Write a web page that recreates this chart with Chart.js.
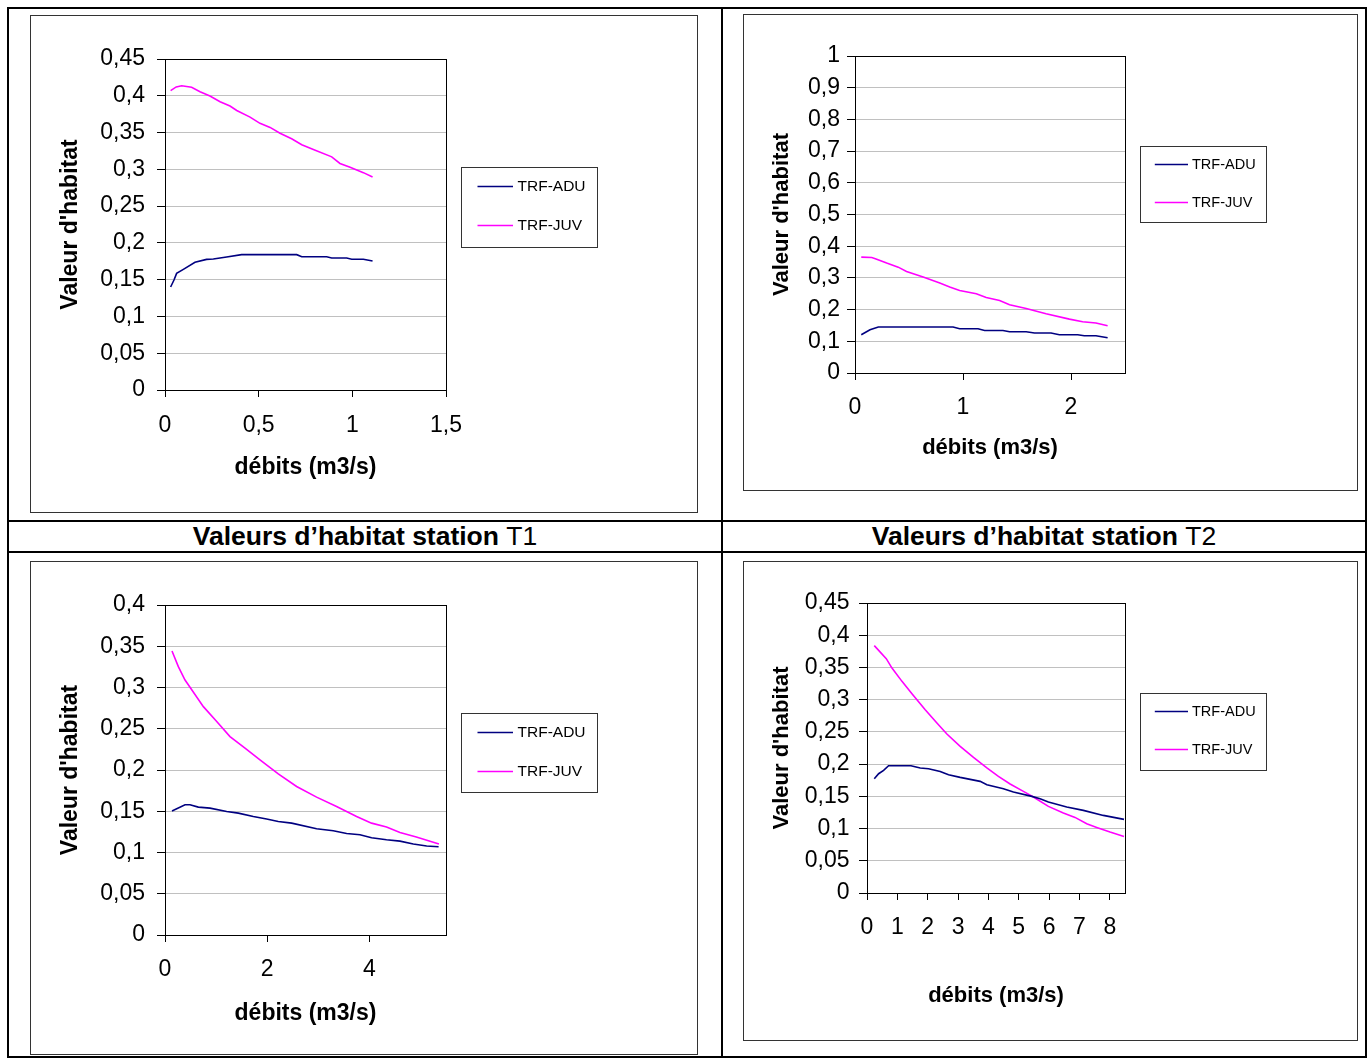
<!DOCTYPE html>
<html><head><meta charset="utf-8">
<script src="https://cdn.jsdelivr.net/npm/chart.js@4.4.1/dist/chart.umd.min.js"></script>
<style>
body{margin:0;background:#fff;width:1368px;height:1059px;position:relative;overflow:hidden;font-family:"Liberation Sans",Arial,sans-serif;}
.ln{position:absolute;background:#000;}
.frame{position:absolute;box-sizing:border-box;border:1px solid #333;pointer-events:none;}
canvas{position:absolute;}
.cap{position:absolute;display:flex;align-items:center;justify-content:center;font-weight:bold;font-size:26.5px;color:#000;white-space:nowrap;}
.cap span{font-weight:normal;}
</style></head><body>
<div class="ln" style="left:7px;top:7px;width:1360px;height:2px"></div>
<div class="ln" style="left:7px;top:1056px;width:1360px;height:2px"></div>
<div class="ln" style="left:7px;top:7px;width:2px;height:1051px"></div>
<div class="ln" style="left:1365px;top:7px;width:2px;height:1051px"></div>
<div class="ln" style="left:721px;top:7px;width:2px;height:1051px"></div>
<div class="ln" style="left:7px;top:520px;width:1360px;height:2px"></div>
<div class="ln" style="left:7px;top:551px;width:1360px;height:2px"></div>
<div class="cap" style="left:9px;top:522px;width:712px;height:29px">Valeurs d’habitat station&nbsp;<span>T1</span></div>
<div class="cap" style="left:723px;top:522px;width:642px;height:29px">Valeurs d’habitat station&nbsp;<span>T2</span></div>

<canvas id="c1" width="668" height="498" style="left:30px;top:15px"></canvas>
<div class="frame" style="left:30px;top:15px;width:668px;height:498px"></div>
<canvas id="c2" width="615" height="477" style="left:743px;top:14px"></canvas>
<div class="frame" style="left:743px;top:14px;width:615px;height:477px"></div>
<canvas id="c3" width="668" height="494" style="left:30px;top:561px"></canvas>
<div class="frame" style="left:30px;top:561px;width:668px;height:494px"></div>
<canvas id="c4" width="615" height="480" style="left:743px;top:561px"></canvas>
<div class="frame" style="left:743px;top:561px;width:615px;height:480px"></div>

<script>
// ---- Data ----
const seriesLabels = ['TRF-ADU', 'TRF-JUV'];
const xTitle = 'débits (m3/s)';
const yTitle = "Valeur d'habitat";

// Chart 1 (top-left, station T1)
const c1AduX = [0.03,0.048,0.062,0.098,0.16,0.222,0.258,0.329,0.409,0.50,0.60,0.703,0.73,0.863,0.89,0.97,0.997,1.059,1.108];
const c1AduY = [0.140,0.1495,0.1586,0.164,0.1736,0.1776,0.178,0.1808,0.184,0.184,0.184,0.184,0.1812,0.1812,0.1794,0.1794,0.1777,0.1777,0.1754];
const c1JuvX = [0.03,0.06,0.089,0.142,0.187,0.24,0.294,0.347,0.383,0.454,0.507,0.561,0.614,0.676,0.73,0.792,0.89,0.934,0.988,1.059,1.108];
const c1JuvY = [0.407,0.412,0.4137,0.4115,0.4056,0.3997,0.392,0.386,0.380,0.371,0.3625,0.357,0.349,0.3416,0.3335,0.327,0.317,0.308,0.3027,0.2955,0.2896];
const c1XRange = [0, 1.5];
const c1YRange = [0, 0.45];
const c1XTicks = [0, 0.5, 1, 1.5];
const c1YTicks = [0,0.05,0.1,0.15,0.2,0.25,0.3,0.35,0.4,0.45];

// Chart 2 (top-right, station T2)
const c2AduX = [0.058,0.139,0.216,0.908,0.969,1.139,1.2,1.37,1.431,1.585,1.662,1.815,1.892,2.062,2.123,2.231,2.339];
const c2AduY = [0.1207,0.1365,0.145,0.145,0.1396,0.1396,0.1343,0.1343,0.130,0.130,0.126,0.126,0.1207,0.1207,0.1175,0.1175,0.111];
const c2JuvX = [0.058,0.155,0.201,0.293,0.40,0.477,0.631,0.785,0.877,0.969,1.123,1.215,1.339,1.431,1.585,1.769,1.985,2.108,2.231,2.339];
const c2JuvY = [0.3656,0.3643,0.359,0.3467,0.334,0.320,0.3025,0.2836,0.271,0.260,0.250,0.2383,0.2288,0.2153,0.2036,0.1869,0.170,0.1617,0.1576,0.149];
const c2XRange = [0, 2.5];
const c2YRange = [0, 1];
const c2XTicks = [0, 1, 2];
const c2YTicks = [0,0.1,0.2,0.3,0.4,0.5,0.6,0.7,0.8,0.9,1];

// Chart 3 (bottom-left)
const c3AduX = [0.137,0.392,0.489,0.652,0.881,1.207,1.435,1.728,1.989,2.217,2.479,2.967,3.293,3.555,3.816,4.043,4.336,4.599,4.86,5.121,5.355];
const c3AduY = [0.1502,0.1578,0.1578,0.155,0.1538,0.1497,0.1477,0.1436,0.1405,0.1376,0.1356,0.1287,0.1263,0.123,0.1215,0.1178,0.1154,0.1138,0.1102,0.1078,0.1069];
const c3JuvX = [0.137,0.261,0.392,0.503,0.751,1.012,1.272,1.566,1.859,2.217,2.576,2.967,3.358,3.75,4.043,4.336,4.599,4.919,5.362];
const c3JuvY = [0.3443,0.3253,0.309,0.299,0.2768,0.2587,0.2405,0.2264,0.2123,0.1953,0.180,0.1671,0.1557,0.1436,0.1356,0.1308,0.1243,0.1187,0.1102];
const c3XRange = [0, 5.5];
const c3YRange = [0, 0.4];
const c3XTicks = [0, 2, 4];
const c3YTicks = [0,0.05,0.1,0.15,0.2,0.25,0.3,0.35,0.4];

// Chart 4 (bottom-right)
const c4AduX = [0.24,0.383,0.547,0.711,1.448,1.754,2.027,2.412,2.686,3.07,3.728,3.949,4.495,4.824,5.43,5.702,5.976,6.58,7.128,7.786,8.467];
const c4AduY = [0.1774,0.1851,0.1903,0.1975,0.1975,0.194,0.1929,0.1887,0.1836,0.1794,0.1732,0.168,0.1619,0.1567,0.1499,0.1463,0.1412,0.1335,0.1282,0.1204,0.1142];
const c4JuvX = [0.24,0.635,0.823,1.152,1.481,1.918,2.303,2.632,3.07,3.508,3.949,4.33,4.715,5.153,5.482,5.976,6.469,6.854,7.239,7.568,8.006,8.467];
const c4JuvY = [0.3838,0.3636,0.349,0.3284,0.3093,0.2845,0.2638,0.2467,0.2275,0.2104,0.194,0.181,0.1691,0.1577,0.149,0.1344,0.1241,0.1173,0.1075,0.1018,0.0946,0.0878];
const c4XRange = [0, 8.5];
const c4YRange = [0, 0.45];
const c4XTicks = [0,1,2,3,4,5,6,7,8];
const c4YTicks = [0,0.05,0.1,0.15,0.2,0.25,0.3,0.35,0.4,0.45];

// ---- Rendering ----
const FAMILY = '"Liberation Sans", Arial, sans-serif';
Chart.defaults.font.family = FAMILY;
Chart.defaults.color = '#000';

const zip = (xs, ys) => xs.map((x, i) => ({x: x, y: ys[i]}));
const fmt = v => String(Math.round(v * 1000) / 1000).replace('.', ',');

const boxLegend = {
  id: 'boxLegend',
  afterDraw(chart, args, o) {
    const ctx = chart.ctx;
    ctx.save();
    ctx.strokeStyle = '#333'; ctx.lineWidth = 1;
    ctx.strokeRect(Math.round(o.x) + 0.5, Math.round(o.y) + 0.5, Math.round(o.w), Math.round(o.h));
    ctx.font = o.font; ctx.textBaseline = 'middle'; ctx.textAlign = 'left'; ctx.fillStyle = '#000';
    chart.data.datasets.forEach((ds, i) => {
      const y = Math.round(o.rows[i]) + 0.5;
      ctx.strokeStyle = ds.borderColor; ctx.lineWidth = 1.5;
      ctx.beginPath(); ctx.moveTo(o.lx1, y); ctx.lineTo(o.lx2, y); ctx.stroke();
      ctx.fillText(ds.label, o.tx, o.rows[i] + 1);
    });
    ctx.restore();
  }
};
const plotFrame = {
  id: 'plotFrame',
  afterDraw(chart) {
    const a = chart.chartArea, ctx = chart.ctx;
    ctx.save(); ctx.strokeStyle = '#000'; ctx.lineWidth = 1;
    const l = Math.round(a.left), t = Math.round(a.top), r = Math.round(a.right), b = Math.round(a.bottom);
    ctx.strokeRect(l + 0.5, t + 0.5, r - l, b - t);
    ctx.restore();
  }
};

function makeChart(id, d) {
  return new Chart(document.getElementById(id), {
    type: 'line',
    data: {
      datasets: [
        {label: seriesLabels[0], data: zip(d.aduX, d.aduY), borderColor: '#000080', borderWidth: 1.6, pointRadius: 0, tension: 0, fill: false},
        {label: seriesLabels[1], data: zip(d.juvX, d.juvY), borderColor: '#ff00ff', borderWidth: 1.6, pointRadius: 0, tension: 0, fill: false}
      ]
    },
    options: {
      responsive: false, animation: false, devicePixelRatio: 1,
      events: [],
      layout: {padding: {left: 0, top: d.top, right: d.right, bottom: 0}, autoPadding: false},
      plugins: {legend: {display: false}, tooltip: {enabled: false}, boxLegend: d.legend},
      scales: {
        x: {
          type: 'linear', min: d.xRange[0], max: d.xRange[1],
          afterBuildTicks: s => { s.ticks = d.xTicks.map(v => ({value: v})); },
          afterFit: s => { s.height = d.xH; },
          ticks: {font: {size: 23}, color: '#000', padding: d.xPad, callback: fmt, maxRotation: 0, autoSkip: false},
          grid: {drawOnChartArea: false, drawTicks: true, tickLength: 7, tickColor: '#000', tickWidth: 1},
          border: {display: false},
          title: {display: true, text: xTitle, font: {size: d.tSize, weight: 'bold'}, color: '#000', padding: {top: 0, bottom: d.xTitlePad}}
        },
        y: {
          type: 'linear', min: d.yRange[0], max: d.yRange[1],
          afterBuildTicks: s => { s.ticks = d.yTicks.map(v => ({value: v})); },
          afterFit: s => { s.width = d.yW; },
          ticks: {font: {size: 23}, color: '#000', padding: d.yPad, callback: fmt, autoSkip: false},
          grid: {color: '#c0c0c0', lineWidth: 1, drawTicks: true, tickLength: 8, tickColor: '#000', tickWidth: 1},
          border: {display: false},
          title: {display: true, text: yTitle, font: {size: d.tSize, weight: 'bold'}, color: '#000', padding: {top: d.yTitlePad, bottom: 0}}
        }
      }
    },
    plugins: [boxLegend, plotFrame]
  });
}

makeChart('c1', {
  aduX: c1AduX, aduY: c1AduY, juvX: c1JuvX, juvY: c1JuvY,
  xRange: c1XRange, yRange: c1YRange, xTicks: c1XTicks, yTicks: c1YTicks,
  top: 44, right: 252, yW: 135, xH: 123, yPad: 12, xPad: 15, xTitlePad: 32, yTitlePad: 27, tSize: 23,
  legend: {x: 431, y: 151.5, w: 136, h: 79.5, rows: [170.5, 210], lx1: 447.5, lx2: 483, tx: 487.5, font: '15.5px ' + FAMILY}
});
makeChart('c2', {
  aduX: c2AduX, aduY: c2AduY, juvX: c2JuvX, juvY: c2JuvY,
  xRange: c2XRange, yRange: c2YRange, xTicks: c2XTicks, yTicks: c2YTicks,
  top: 42, right: 233, yW: 112, xH: 118, yPad: 7, xPad: 13.5, xTitlePad: 30, yTitlePad: 25.5, tSize: 22,
  legend: {x: 397, y: 132, w: 125.5, h: 76, rows: [149.6, 187.5], lx1: 411.8, lx2: 445, tx: 449, font: '14.5px ' + FAMILY}
});
makeChart('c3', {
  aduX: c3AduX, aduY: c3AduY, juvX: c3JuvX, juvY: c3JuvY,
  xRange: c3XRange, yRange: c3YRange, xTicks: c3XTicks, yTicks: c3YTicks,
  top: 44, right: 252, yW: 135, xH: 120, yPad: 12, xPad: 13.8, xTitlePad: 28, yTitlePad: 27, tSize: 23,
  legend: {x: 431, y: 152, w: 136, h: 79, rows: [171, 210], lx1: 447.5, lx2: 483, tx: 487.5, font: '15.5px ' + FAMILY}
});
makeChart('c4', {
  aduX: c4AduX, aduY: c4AduY, juvX: c4JuvX, juvY: c4JuvY,
  xRange: c4XRange, yRange: c4YRange, xTicks: c4XTicks, yTicks: c4YTicks,
  top: 42, right: 233, yW: 124, xH: 148, yPad: 9.5, xPad: 14.3, xTitlePad: 32, yTitlePad: 25.5, tSize: 22,
  legend: {x: 397, y: 132, w: 125.5, h: 76.5, rows: [150, 188.2], lx1: 411.8, lx2: 445, tx: 449, font: '14.5px ' + FAMILY}
});
</script>
</body></html>
